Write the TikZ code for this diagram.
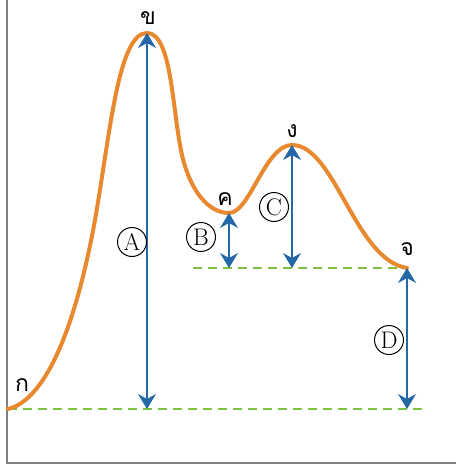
\documentclass[tikz,border=0pt]{standalone}
\usepackage{fontspec}
\newfontfamily\thaifont[Script=Thai]{Loma}
\usetikzlibrary{arrows.meta}
\definecolor{curveorange}{HTML}{E8892F}
\definecolor{arrowblue}{HTML}{2468A8}
\definecolor{dashgreen}{HTML}{7DC242}
\definecolor{axisgray}{HTML}{7F7F7F}
\tikzset{
  curve/.style={curveorange, line width=4pt, line cap=round},
  arr/.style={arrowblue, line width=1.4pt, {Stealth[length=15pt,width=18pt,inset=5pt]}-{Stealth[length=15pt,width=18pt,inset=5pt]}},
  level/.style={dashgreen, line width=1.8pt, dash pattern=on 9pt off 6pt},
  axis/.style={axisgray, line width=1.4pt},
  tag/.style={circle, draw, line width=1pt, minimum size=29pt, inner sep=0pt, font=\fontsize{24}{26}\selectfont},
  thai/.style={inner sep=0pt, font=\thaifont\fontsize{23}{26}\selectfont}
}
\begin{document}
\begin{tikzpicture}[x=1pt,y=-1pt]
\useasboundingbox (0,0) rectangle (456,466);
% axes
\coordinate (otop) at (7,0);
\coordinate (org) at (7,463);
\coordinate (xend) at (456,463);
\draw[axis] (otop) -- (org) -- (xend);
% key points
\coordinate (pA) at (8,409);
\coordinate (pB) at (147,33);
\coordinate (pC) at (229,213);
\coordinate (pD) at (292,145);
\coordinate (pE) at (407,268);
\coordinate (A0) at (147,409);
\coordinate (B0) at (229,268);
\coordinate (C0) at (292,268);
\coordinate (D0) at (407,409);
\coordinate (g1e) at (428,409);
\coordinate (g2s) at (193,268);
% dashed levels
\draw[level] (pA) -- (g1e);
\draw[level] (g2s) -- (pE);
% curve
\draw[curve] (pA) .. controls (45,400) and (75,330) .. (95,220)
  .. controls (110,135) and (118,33) .. (pB)
  .. controls (172,33) and (172,110) .. (182,155)
  .. controls (190,190) and (208,213) .. (pC)
  .. controls (250,213) and (265,145) .. (pD)
  .. controls (335,145) and (355,260) .. (pE);
% arrows
\draw[arr] (A0) -- (pB);
\draw[arr] (B0) -- (pC);
\draw[arr] (C0) -- (pD);
\draw[arr] (D0) -- (pE);
% tags
\node[tag] (tA) at (132,242) {A};
\node[tag] (tB) at (201,237) {B};
\node[tag] (tC) at (274,207) {C};
\node[tag] (tD) at (389,340) {D};
% thai labels
\node[thai] (lA) at (22,385) {ก};
\node[thai] (lB) at (148,18) {ข};
\node[thai] (lC) at (225,199) {ค};
\node[thai] (lD) at (292,131) {ง};
\node[thai] (lE) at (407,249) {จ};
\end{tikzpicture}
\end{document}
